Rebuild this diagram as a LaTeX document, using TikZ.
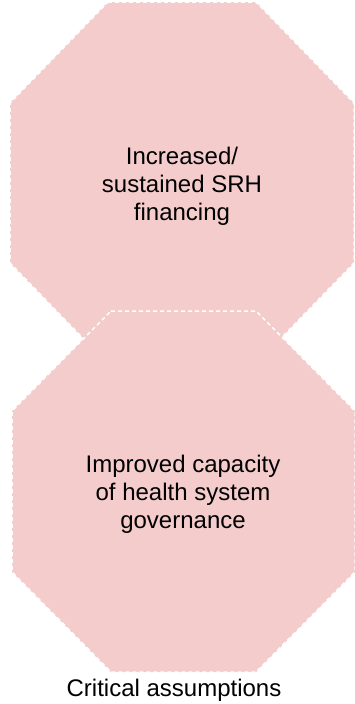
\documentclass[tikz,border=0pt]{standalone}
\usepackage{fontspec}
\setmainfont{Liberation Sans}
\usepackage{xcolor}
\usepackage{tikz}
\definecolor{assumptionpink}{HTML}{F4CCCC}

\begin{document}
\begin{tikzpicture}[x=1pt,y=-1pt,
  octagon/.style={fill=assumptionpink,draw=white,line width=1.5pt,dash pattern=on 4pt off 3pt},
  boxtext/.style={align=center,font=\fontsize{24}{28}\selectfont}]
\useasboundingbox (0,0) rectangle (355,704);
\draw[octagon] (108,2) -- (256,2) -- (354,103) -- (354,263) -- (256,364) -- (108,364) -- (10,263) -- (10,103) -- cycle;
\draw[octagon] (111,311) -- (256,311) -- (355,411) -- (355,572) -- (256,672) -- (111,672) -- (12,572) -- (12,411) -- cycle;
\node[boxtext] (financing) at (182,186) {Increased/\\sustained SRH\\financing};
\node[boxtext] (governance) at (183,494) {Improved capacity\\of health system\\governance};
\node[boxtext] (assumptions) at (174,690) {Critical assumptions};
\end{tikzpicture}
\end{document}
